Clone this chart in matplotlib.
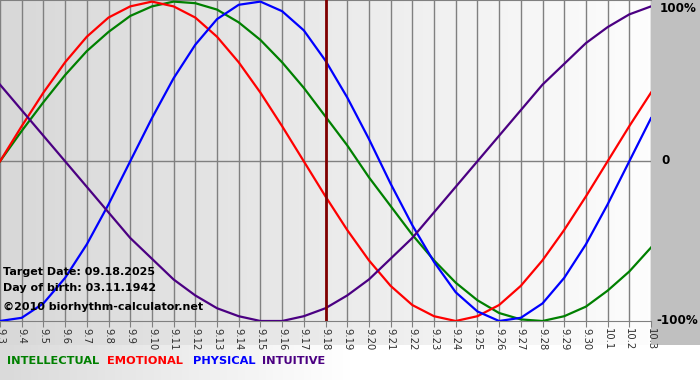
import numpy as np
import matplotlib.pyplot as plt
from matplotlib.colors import LinearSegmentedColormap

# dni od 9.3 do 10.3
labels = ['9.%d' % d for d in range(3, 31)] + ['10.1', '10.2', '10.3']
physical = [-1.00, -0.98, -0.89, -0.73, -0.52, -0.27, 0.00, 0.27, 0.52, 0.73, 0.89,
            0.98, 1.00, 0.94, 0.82, 0.63, 0.40, 0.14, -0.14, -0.40, -0.63, -0.82,
            -0.94, -1.00, -0.98, -0.89, -0.73, -0.52, -0.27, 0.00, 0.27]
emotional = [0.00, 0.22, 0.43, 0.62, 0.78, 0.90, 0.97, 1.00, 0.97, 0.90, 0.78,
             0.62, 0.43, 0.22, 0.00, -0.22, -0.43, -0.62, -0.78, -0.90, -0.97, -1.00,
             -0.97, -0.90, -0.78, -0.62, -0.43, -0.22, 0.00, 0.22, 0.43]
intellectual = [0.00, 0.19, 0.37, 0.54, 0.69, 0.81, 0.91, 0.97, 1.00, 0.99, 0.95,
                0.87, 0.76, 0.62, 0.46, 0.28, 0.10, -0.10, -0.28, -0.46, -0.62, -0.76,
                -0.87, -0.95, -0.99, -1.00, -0.97, -0.91, -0.81, -0.69, -0.54]
intuitive = [0.48, 0.32, 0.16, 0.00, -0.16, -0.32, -0.48, -0.61, -0.74, -0.84, -0.92,
             -0.97, -1.00, -1.00, -0.97, -0.92, -0.84, -0.74, -0.61, -0.48, -0.32, -0.16,
             0.00, 0.16, 0.32, 0.48, 0.61, 0.74, 0.84, 0.92, 0.97]
target = '9.18'

x = np.arange(len(labels))
W, H = 700, 380
fig = plt.figure(figsize=(7, 3.8), dpi=100, facecolor='white')
grad = np.linspace(0, 1, 200).reshape(1, -1)

# tło legendy
lcm = LinearSegmentedColormap.from_list('l', ['#dadada', '#ffffff', '#ffffff'])
lax = fig.add_axes([0, 0, 1, 35 / H])
lax.imshow(grad, cmap=lcm, aspect='auto')
lax.axis('off')

# tło wykresu (z pasem etykiet)
bcm = LinearSegmentedColormap.from_list('b', ['#d8d8d8', '#fdfdfd'])
bax = fig.add_axes([0, 1 - 345 / H, 651 / W, 345 / H])
bax.imshow(grad, cmap=bcm, aspect='auto')
bax.axis('off')

# szary pasek po prawej
rax = fig.add_axes([651 / W, 1 - 345 / H, 49 / W, 345 / H])
rax.set_facecolor('#c0c0c0')
rax.set_xticks([])
rax.set_yticks([])
for s in rax.spines.values():
    s.set_visible(False)

ax = fig.add_axes([0, 1 - 321 / H, 651 / W, 321 / H])
ax.patch.set_alpha(0)
ax.set_xlim(0, len(labels) - 1)
ax.set_ylim(-1, 1.01)

for xi in x:
    ax.axvline(xi, color='#808080', lw=1, zorder=1)
ax.axhline(0, color='#808080', lw=1, zorder=1)

ax.plot(x, intellectual, color='#008000', lw=1.6, zorder=3)
ax.plot(x, emotional, color='#ff0000', lw=1.6, zorder=3)
ax.plot(x, physical, color='#0000ff', lw=1.6, zorder=3)
ax.plot(x, intuitive, color='#4b0082', lw=1.6, zorder=3)
ax.axvline(labels.index(target), color='#800000', lw=2, zorder=4)

for s in ['left', 'right']:
    ax.spines[s].set_visible(False)
ax.spines['top'].set_color('#808080')
ax.spines['bottom'].set_color('#808080')
ax.set_yticks([])
ax.set_xticks(x)
ax.set_xticklabels(labels, rotation=270, fontsize=7.2, color='#303030')
ax.tick_params(axis='x', length=4, color='#808080', pad=1)

for yp, xp, txt in [(8, 660, '100%'), (161, 661, '0'), (321, 656, '-100%')]:
    fig.text(xp / W, 1 - yp / H, txt, va='center', ha='left', fontsize=8.6,
             fontweight='bold', zorder=10)

info = ['Target Date: 09.18.2025', 'Day of birth: 03.11.1942',
        '©2010 biorhythm-calculator.net']
for yp, t in zip([272, 288, 307], info):
    fig.text(3 / W, 1 - yp / H, t, fontsize=8, fontweight='bold', va='center', zorder=10)

# legenda
names = ['INTELLECTUAL', 'EMOTIONAL', 'PHYSICAL', 'INTUITIVE']
cols = ['#008000', '#ff0000', '#0000ff', '#4b0082']
xpos = [7, 107, 193, 262]
for n, c, xp in zip(names, cols, xpos):
    fig.text(xp / W, 1 - 361 / H, n, color=c, fontsize=8.2, fontweight='bold',
             va='center', zorder=10)

fig.savefig('out.png', dpi=100)
